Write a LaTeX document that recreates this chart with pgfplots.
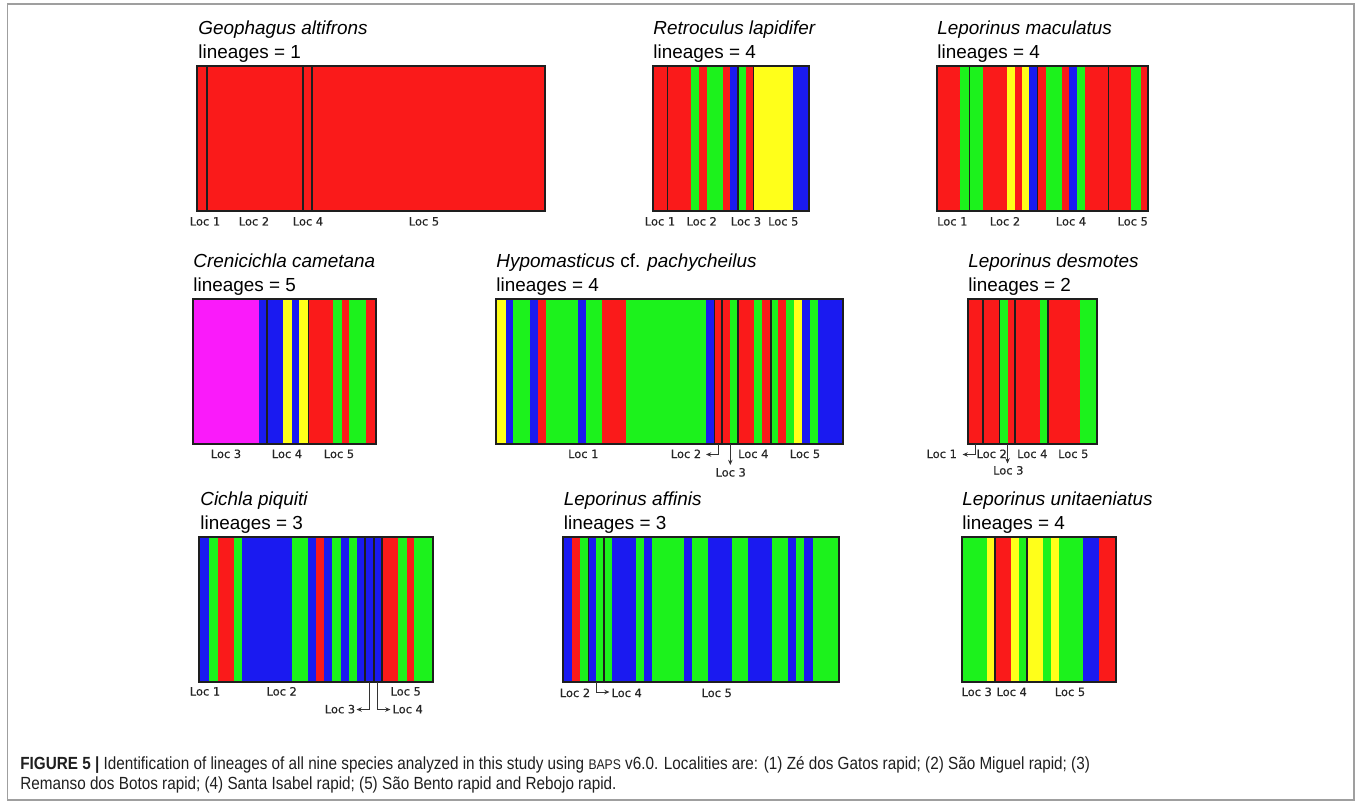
\documentclass[border=0pt]{standalone}
\usepackage{pgfplots}
\pgfplotsset{compat=1.18}
\usetikzlibrary{arrows.meta}
\usepackage{fontspec}
\setmainfont{Liberation Sans}
\newfontfamily\locfont[FakeBold=0.4]{DejaVu Sans}
\newfontfamily\capfont[FakeStretch=0.868]{Liberation Sans}
\definecolor{cr}{HTML}{FA1A1A}
\definecolor{cg}{HTML}{1CF21C}
\definecolor{cb}{HTML}{1A1AF0}
\definecolor{cy}{HTML}{FFFF1A}
\definecolor{cm}{HTML}{FA1AFA}
\definecolor{frame}{HTML}{1E1E1E}
\newcommand{\seg}[3]{\addplot[draw=none, fill=#1, forget plot] coordinates {(#2,0) (#2,1) (#3,1) (#3,0)};}
\newcommand{\sep}[1]{\addplot[frame, line width=0.8pt, forget plot] coordinates {(#1,0) (#1,1)};}
\pgfplotsset{panel/.style={scale only axis, ymin=0, ymax=1, ticks=none,
  axis line style={frame, line width=1pt}, axis on top, anchor=north west}}
\newcommand{\ttl}[1]{\fontsize{9.45}{11}\selectfont #1}
\newcommand{\lc}{\locfont\fontsize{5.7}{6}\selectfont\color{black!85}}
\begin{document}
\begin{tikzpicture}[x=0.5pt,y=-0.5pt]
\useasboundingbox (0,0) rectangle (1358,802);
\draw[gray!75, line width=0.6pt] (7.3,4) rectangle (1354,800);
% ---------- Row 1 ----------
% A Geophagus altifrons
\begin{axis}[panel, at={({197*0.5pt},{-66*0.5pt})}, width=174pt, height=72.5pt, xmin=197, xmax=545]
\seg{cr}{197}{545}
\sep{207}\sep{303}\sep{312}
\end{axis}
% B Retroculus lapidifer
\begin{axis}[panel, at={({652.7*0.5pt},{-66*0.5pt})}, width=78.3pt, height=72.5pt, xmin=652.7, xmax=809.3]
\seg{cr}{652.7}{690.7}\seg{cg}{690.7}{699.3}\seg{cr}{699.3}{706.7}\seg{cg}{706.7}{722.7}
\seg{cr}{722.7}{730}\seg{cb}{730}{737.7}\seg{cg}{737.7}{746}\seg{cr}{746}{753.3}
\seg{cy}{753.3}{792.7}\seg{cb}{792.7}{809.3}
\sep{667.3}\sep{737.7}\sep{753.3}
\end{axis}
% C Leporinus maculatus
\begin{axis}[panel, at={({936.7*0.5pt},{-66*0.5pt})}, width=105.65pt, height=72.5pt, xmin=936.7, xmax=1148]
\seg{cr}{936.7}{960}\seg{cg}{960}{983.3}\seg{cr}{983.3}{1006.7}\seg{cy}{1006.7}{1015}
\seg{cr}{1015}{1022.3}\seg{cy}{1022.3}{1029.3}\seg{cb}{1029.3}{1037.3}\seg{cr}{1037.3}{1046}
\seg{cg}{1046}{1061.7}\seg{cr}{1061.7}{1069}\seg{cb}{1069}{1076.7}\seg{cg}{1076.7}{1085}
\seg{cr}{1085}{1130.7}\seg{cg}{1130.7}{1141}\seg{cr}{1141}{1148}
\sep{969.3}\sep{1037.3}\sep{1108.3}
\end{axis}
% ---------- Row 2 ----------
% D Crenicichla cametana
\begin{axis}[panel, at={({192.7*0.5pt},{-298.5*0.5pt})}, width=91.5pt, height=72.75pt, xmin=192.7, xmax=375.7]
\seg{cm}{192.7}{259}\seg{cb}{259}{283.3}\seg{cy}{283.3}{291.7}\seg{cb}{291.7}{299.3}
\seg{cy}{299.3}{308.3}\seg{cr}{308.3}{332.7}\seg{cg}{332.7}{341.7}\seg{cr}{341.7}{349.3}
\seg{cg}{349.3}{366}\seg{cr}{366}{375.7}
\sep{266.7}\sep{308.3}
\end{axis}
% E Hypomasticus cf. pachycheilus
\begin{axis}[panel, at={({495.7*0.5pt},{-299*0.5pt})}, width=173.5pt, height=72.25pt, xmin=495.7, xmax=842.7]
\seg{cy}{495.7}{505.7}\seg{cb}{505.7}{513.3}\seg{cg}{513.3}{530}\seg{cb}{530}{537.7}
\seg{cr}{537.7}{545.7}\seg{cg}{545.7}{577.7}\seg{cb}{577.7}{585.7}\seg{cg}{585.7}{601.7}
\seg{cr}{601.7}{625.7}\seg{cg}{625.7}{706}\seg{cb}{706}{714.3}\seg{cr}{714.3}{730}
\seg{cg}{730}{738}\seg{cr}{738}{754}\seg{cg}{754}{762.3}\seg{cr}{762.3}{770.7}
\seg{cg}{770.7}{778.3}\seg{cr}{778.3}{786}\seg{cg}{786}{794}\seg{cy}{794}{801.7}
\seg{cb}{801.7}{810}\seg{cg}{810}{818.3}\seg{cb}{818.3}{842.7}
\sep{714.3}\sep{722}\sep{738}\sep{770.7}
\end{axis}
% F Leporinus desmotes
\begin{axis}[panel, at={({967.7*0.5pt},{-299*0.5pt})}, width=64.8pt, height=72.25pt, xmin=967.7, xmax=1097.3]
\seg{cr}{967.7}{999.3}\seg{cg}{999.3}{1008.3}\seg{cr}{1008.3}{1040}\seg{cg}{1040}{1048}
\seg{cr}{1048}{1080}\seg{cg}{1080}{1097.3}
\sep{982.7}\sep{999.3}\sep{1015}\sep{1048}
\end{axis}
% ---------- Row 3 ----------
% G Cichla piquiti
\begin{axis}[panel, at={({199.3*0.5pt},{-536.7*0.5pt})}, width=117pt, height=72.5pt, xmin=199.3, xmax=433.3]
\seg{cb}{199.3}{209.3}\seg{cg}{209.3}{217.7}\seg{cr}{217.7}{234}\seg{cg}{234}{242.3}
\seg{cb}{242.3}{291.7}\seg{cg}{291.7}{308.3}\seg{cb}{308.3}{316}\seg{cr}{316}{324}
\seg{cb}{324}{332.3}\seg{cg}{332.3}{341}\seg{cb}{341}{349.3}\seg{cg}{349.3}{357.3}
\seg{cb}{357.3}{381.7}\seg{cr}{381.7}{398.3}\seg{cg}{398.3}{406.7}\seg{cr}{406.7}{414.3}
\seg{cg}{414.3}{433.3}
\sep{365}\sep{374}\sep{381.7}
\end{axis}
% H Leporinus affinis
\begin{axis}[panel, at={({563.3*0.5pt},{-536.7*0.5pt})}, width=137.7pt, height=72.5pt, xmin=563.3, xmax=838.7]
\seg{cb}{563.3}{571.7}\seg{cr}{571.7}{580}\seg{cg}{580}{588.3}\seg{cb}{588.3}{596}
\seg{cg}{596}{612.3}\seg{cb}{612.3}{636}\seg{cg}{636}{644.3}\seg{cb}{644.3}{651.7}
\seg{cg}{651.7}{684.3}\seg{cb}{684.3}{691.7}\seg{cg}{691.7}{708.3}\seg{cb}{708.3}{732.3}
\seg{cg}{732.3}{748.3}\seg{cb}{748.3}{772.3}\seg{cg}{772.3}{788.3}\seg{cb}{788.3}{796}
\seg{cg}{796}{804.3}\seg{cb}{804.3}{812.7}\seg{cg}{812.7}{838.7}
\sep{588.3}\sep{604}
\end{axis}
% I Leporinus unitaeniatus
\begin{axis}[panel, at={({961.7*0.5pt},{-536.7*0.5pt})}, width=77pt, height=72.5pt, xmin=961.7, xmax=1115.7]
\seg{cg}{961.7}{986.7}\seg{cy}{986.7}{995}\seg{cr}{995}{1011}\seg{cy}{1011}{1019}
\seg{cg}{1019}{1026.7}\seg{cy}{1026.7}{1043.3}\seg{cg}{1043.3}{1051}\seg{cy}{1051}{1059.3}
\seg{cg}{1059.3}{1083.3}\seg{cb}{1083.3}{1099}\seg{cr}{1099}{1115.7}
\sep{995}\sep{1026.7}
\end{axis}
% ---------- titles ----------
\begin{scope}[every node/.style={anchor=base west, inner sep=0pt}]
\node at (198,35) {\ttl{\itshape Geophagus altifrons}};
\node at (198,59) {\ttl{lineages = 1}};
\node at (653,35) {\ttl{\itshape Retroculus lapidifer}};
\node at (653,59) {\ttl{lineages = 4}};
\node at (937,35) {\ttl{\itshape Leporinus maculatus}};
\node at (937,59) {\ttl{lineages = 4}};
\node at (193,267) {\ttl{\itshape Crenicichla cametana}};
\node at (193,291.5) {\ttl{lineages = 5}};
\node at (496,267) {\ttl{\textit{Hypomasticus} cf. \textit{pachycheilus}}};
\node at (496,291.5) {\ttl{lineages = 4}};
\node at (968,267) {\ttl{\itshape Leporinus desmotes}};
\node at (968,291.5) {\ttl{lineages = 2}};
\node at (200,505.5) {\ttl{\itshape Cichla piquiti}};
\node at (200,529.5) {\ttl{lineages = 3}};
\node at (563.5,505.5) {\ttl{\itshape Leporinus affinis}};
\node at (563.5,529.5) {\ttl{lineages = 3}};
\node at (962,505.5) {\ttl{\itshape Leporinus unitaeniatus}};
\node at (962,529.5) {\ttl{lineages = 4}};
\end{scope}
% ---------- location labels ----------
\begin{scope}[every node/.style={anchor=base, inner sep=0pt}]
\node at (205,225.5) {\lc Loc 1};
\node at (254,225.5) {\lc Loc 2};
\node at (308,225.5) {\lc Loc 4};
\node at (424,225.5) {\lc Loc 5};
\node at (660,225.5) {\lc Loc 1};
\node at (701.7,225.5) {\lc Loc 2};
\node at (746,225.5) {\lc Loc 3};
\node at (783.3,225.5) {\lc Loc 5};
\node at (952.3,225.5) {\lc Loc 1};
\node at (1005,225.5) {\lc Loc 2};
\node at (1071,225.5) {\lc Loc 4};
\node at (1132.7,225.5) {\lc Loc 5};
\node at (226,458) {\lc Loc 3};
\node at (287,458) {\lc Loc 4};
\node at (339,458) {\lc Loc 5};
\node at (583.3,458) {\lc Loc 1};
\node at (686,458) {\lc Loc 2};
\node at (730.7,476.5) {\lc Loc 3};
\node at (753.3,458) {\lc Loc 4};
\node at (805,458) {\lc Loc 5};
\node at (941.7,458) {\lc Loc 1};
\node at (991.7,458) {\lc Loc 2};
\node at (1008.3,474.5) {\lc Loc 3};
\node at (1032.3,458) {\lc Loc 4};
\node at (1073.3,458) {\lc Loc 5};
\node at (205,695.5) {\lc Loc 1};
\node at (281.7,695.5) {\lc Loc 2};
\node at (405.7,695.5) {\lc Loc 5};
\node at (340,713.3) {\lc Loc 3};
\node at (407.7,713.3) {\lc Loc 4};
\node at (575,697) {\lc Loc 2};
\node at (626.7,697) {\lc Loc 4};
\node at (716.7,697) {\lc Loc 5};
\node at (976.7,696) {\lc Loc 3};
\node at (1011.7,696) {\lc Loc 4};
\node at (1070,696) {\lc Loc 5};
\end{scope}
% ---------- pointer lines ----------
\begin{scope}[black!80, line width=0.5pt, arr/.style={-{Stealth[length=2.6pt,width=2.2pt]}}]
\draw[arr] (718.2,443.5) -- (718.2,454.5) -- (706,454.5);
\draw[arr] (730.3,443.5) -- (730.3,465);
\draw[arr] (975,443.5) -- (975,454.5) -- (962.5,454.5);
\draw[arr] (1007.5,443.5) -- (1007.5,463.5);
\draw[arr] (369.5,681.7) -- (369.5,709.5) -- (356.5,709.5);
\draw[arr] (377.8,681.7) -- (377.8,709.5) -- (390.5,709.5);
\draw[arr] (596.3,681.7) -- (596.3,692) -- (609.5,692);
\end{scope}
% ---------- caption ----------
\node[anchor=base west, inner sep=0pt, align=left, color=black!88,
  font={\capfont\fontsize{8.8}{10}\selectfont}] at (20,789)
 {\textbf{FIGURE 5 |} Identification of lineages of all nine species analyzed in this study using {\fontsize{7}{7}\selectfont BAPS} v6.0. Localities are: (1) Zé dos Gatos rapid; (2) São Miguel rapid; (3)\\
 Remanso dos Botos rapid; (4) Santa Isabel rapid; (5) São Bento rapid and Rebojo rapid.};
\end{tikzpicture}
\end{document}
